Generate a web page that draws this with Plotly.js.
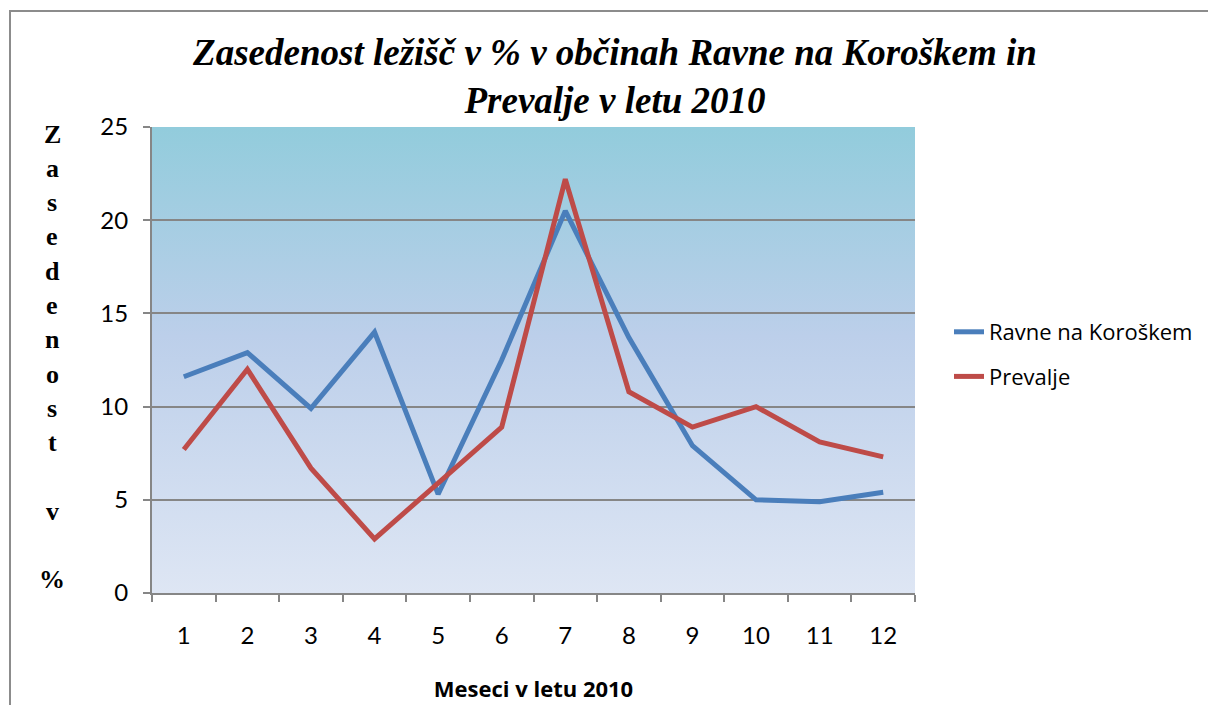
<!DOCTYPE html>
<html>
<head>
<meta charset="utf-8">
<script src="https://cdn.plot.ly/plotly-3.0.1.min.js"></script>
<style>
html,body{margin:0;padding:0;width:1208px;height:705px;overflow:hidden;background:#fff;}
#chart{width:1208px;height:705px;position:absolute;left:0;top:0;}
#frame{position:absolute;left:9px;top:10px;width:1400px;height:900px;border:2px solid #8c8c8c;pointer-events:none;}
</style>
</head>
<body>
<div id="chart"></div>
<div id="frame"></div>
<script>
const months = ["1","2","3","4","5","6","7","8","9","10","11","12"];
const ravne = [11.6, 12.9, 9.9, 14.0, 5.3, 12.5, 20.5, 13.7, 7.9, 5.0, 4.9, 5.4];
const prevalje = [7.7, 12.0, 6.7, 2.9, 5.9, 8.9, 22.2, 10.8, 8.9, 10.0, 8.1, 7.3];
const seriesNames = ["Ravne na Koroškem", "Prevalje"];
const titleText = "Zasedenost ležišč v % v občinah Ravne na Koroškem in<br>Prevalje v letu 2010";
const yTitleChars = ["Z","a","s","e","d","e","n","o","s","t","","v","","%"];
const xTitleText = "Meseci v letu 2010";

const plotTop = 127, plotBottom = 593, plotLeft = 152, plotRight = 915;
const plotH = plotBottom - plotTop, plotW = plotRight - plotLeft;

const svg = '<svg xmlns="http://www.w3.org/2000/svg" width="100" height="100" viewBox="0 0 100 100" preserveAspectRatio="none">' +
  '<defs><linearGradient id="g" x1="0" y1="0" x2="0" y2="1">' +
  '<stop offset="0" stop-color="#92CCDC"/><stop offset="0.45" stop-color="#BCCFEA"/><stop offset="1" stop-color="#DEE6F4"/>' +
  '</linearGradient></defs><rect x="0" y="0" width="100" height="100" fill="url(#g)"/></svg>';
const bgSrc = 'data:image/svg+xml;charset=utf-8,' + encodeURIComponent(svg);

const annotations = [];
yTitleChars.forEach((c, i) => {
  if (!c) return;
  const cy = 134 + 34.3 * i;
  annotations.push({
    xref: 'paper', yref: 'paper',
    x: (52 - plotLeft) / plotW, y: (plotBottom - cy) / plotH,
    xanchor: 'center', yanchor: 'middle', showarrow: false,
    text: c,
    font: {family: 'Liberation Serif', size: 26, color: '#000', weight: 'bold'}
  });
});

const traces = [
  {x: months, y: ravne, name: seriesNames[0], type: 'scatter', mode: 'lines',
   line: {color: '#4A7EBB', width: 5}, legendgroup: 'a'},
  {x: months, y: prevalje, name: seriesNames[1], type: 'scatter', mode: 'lines',
   line: {color: '#BE4B48', width: 5}, legendgroup: 'b'}
];

const layout = {
  width: 1208, height: 705,
  margin: {l: plotLeft, r: 1208 - plotRight, t: plotTop, b: 705 - plotBottom},
  paper_bgcolor: 'rgba(0,0,0,0)',
  plot_bgcolor: 'rgba(0,0,0,0)',
  title: {
    text: titleText,
    font: {family: 'Liberation Serif', size: 37, color: '#000', weight: 'bold', style: 'italic'},
    x: 615 / 1208, xanchor: 'center', xref: 'container',
    y: 1 - 65 / 705, yanchor: 'middle', yref: 'container'
  },
  xaxis: {
    type: 'category',
    showgrid: false, zeroline: false,
    showline: true, linecolor: '#868686', linewidth: 2,
    ticks: 'outside', tickson: 'boundaries', ticklen: 7, tickcolor: '#868686', tickwidth: 2,
    tickfont: {family: 'Lato', size: 24, color: '#000'},
    ticklabelstandoff: 20,
    title: {text: xTitleText, font: {family: 'Open Sans', size: 22, color: '#000', weight: 'bold'}, standoff: 34},
    range: [-0.5, 11.5], fixedrange: true
  },
  yaxis: {
    range: [0, 25], dtick: 5, tick0: 0,
    showgrid: true, gridcolor: '#868686', gridwidth: 2,
    zeroline: false,
    showline: true, linecolor: '#868686', linewidth: 2,
    ticks: 'outside', ticklen: 7, tickcolor: '#868686', tickwidth: 2,
    tickfont: {family: 'Lato', size: 24, color: '#000'},
    ticklabelstandoff: 10,
    fixedrange: true
  },
  legend: {
    xref: 'container', yref: 'container',
    x: 949 / 1208, y: 1 - 311 / 705, xanchor: 'left', yanchor: 'top',
    font: {family: 'Open Sans', size: 22, color: '#000'},
    bgcolor: 'rgba(0,0,0,0)', borderwidth: 0,
    traceorder: 'grouped', tracegroupgap: 13
  },
  images: [{
    source: bgSrc, xref: 'paper', yref: 'paper',
    x: 0, y: 1, sizex: 1, sizey: 1, sizing: 'stretch',
    xanchor: 'left', yanchor: 'top', layer: 'below'
  }],
  annotations: annotations,
  showlegend: true
};

Plotly.newPlot('chart', traces, layout, {displayModeBar: false, staticPlot: true});
</script>
</body>
</html>
